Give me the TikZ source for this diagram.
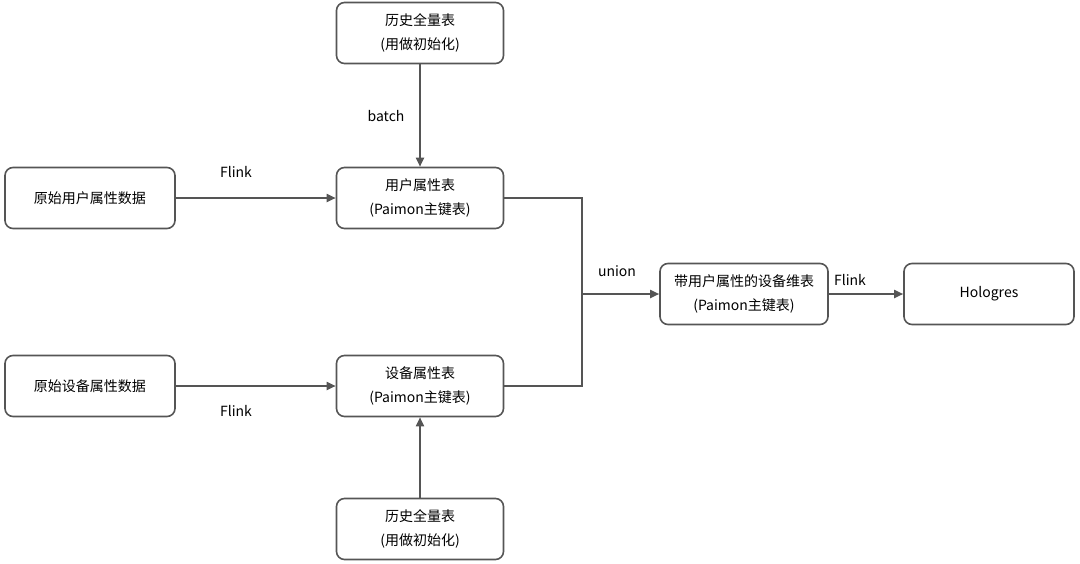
\documentclass[tikz,border=0pt]{standalone}
\usepackage{fontspec}
\setmainfont{Noto Sans CJK SC}
\usetikzlibrary{arrows.meta}
\definecolor{ln}{HTML}{555555}
\begin{document}
\begin{tikzpicture}[x=1pt,y=-1pt,
  box/.style={draw=ln,line width=1.6pt,rounded corners=8pt,minimum width=167pt,minimum height=61pt,align=center,font=\fontsize{14}{24}\selectfont},
  arr/.style={draw=ln,line width=1.8pt,-{Triangle[length=9pt,width=8pt]}},
  lbl/.style={font=\fontsize{14}{16}\selectfont}]
\useasboundingbox (0,0) rectangle (1080,563);
\node[box] (top) at (420,33) {历史全量表\\(用做初始化)};
\node[box] (user) at (420,198) {用户属性表\\(Paimon主键表)};
\node[box,minimum width=170pt] (src1) at (90,198) {原始用户属性数据};
\node[box,minimum width=170pt] (src2) at (90,386) {原始设备属性数据};
\node[box] (dev) at (420,386) {设备属性表\\(Paimon主键表)};
\node[box] (bot) at (420,529) {历史全量表\\(用做初始化)};
\node[box,minimum width=168pt] (dim) at (744,294) {带用户属性的设备维表\\(Paimon主键表)};
\node[box,minimum width=170pt] (holo) at (989,294) {Hologres};
\coordinate (j) at (582,294);
\draw[arr] (top) -- (user);
\draw[arr] (bot) -- (dev);
\draw[arr] (src1) -- (user);
\draw[arr] (src2) -- (dev);
\draw[draw=ln,line width=1.8pt] (user.east) -| (j) |- (dev.east);
\draw[arr] (j) -- (dim);
\draw[arr] (dim) -- (holo);
\node[lbl] (l1) at (236,172) {Flink};
\node[lbl] (l2) at (236,411) {Flink};
\node[lbl] (l3) at (386,116) {batch};
\node[lbl] (l4) at (617,271) {union};
\node[lbl] (l5) at (850,280) {Flink};
\end{tikzpicture}
\end{document}
